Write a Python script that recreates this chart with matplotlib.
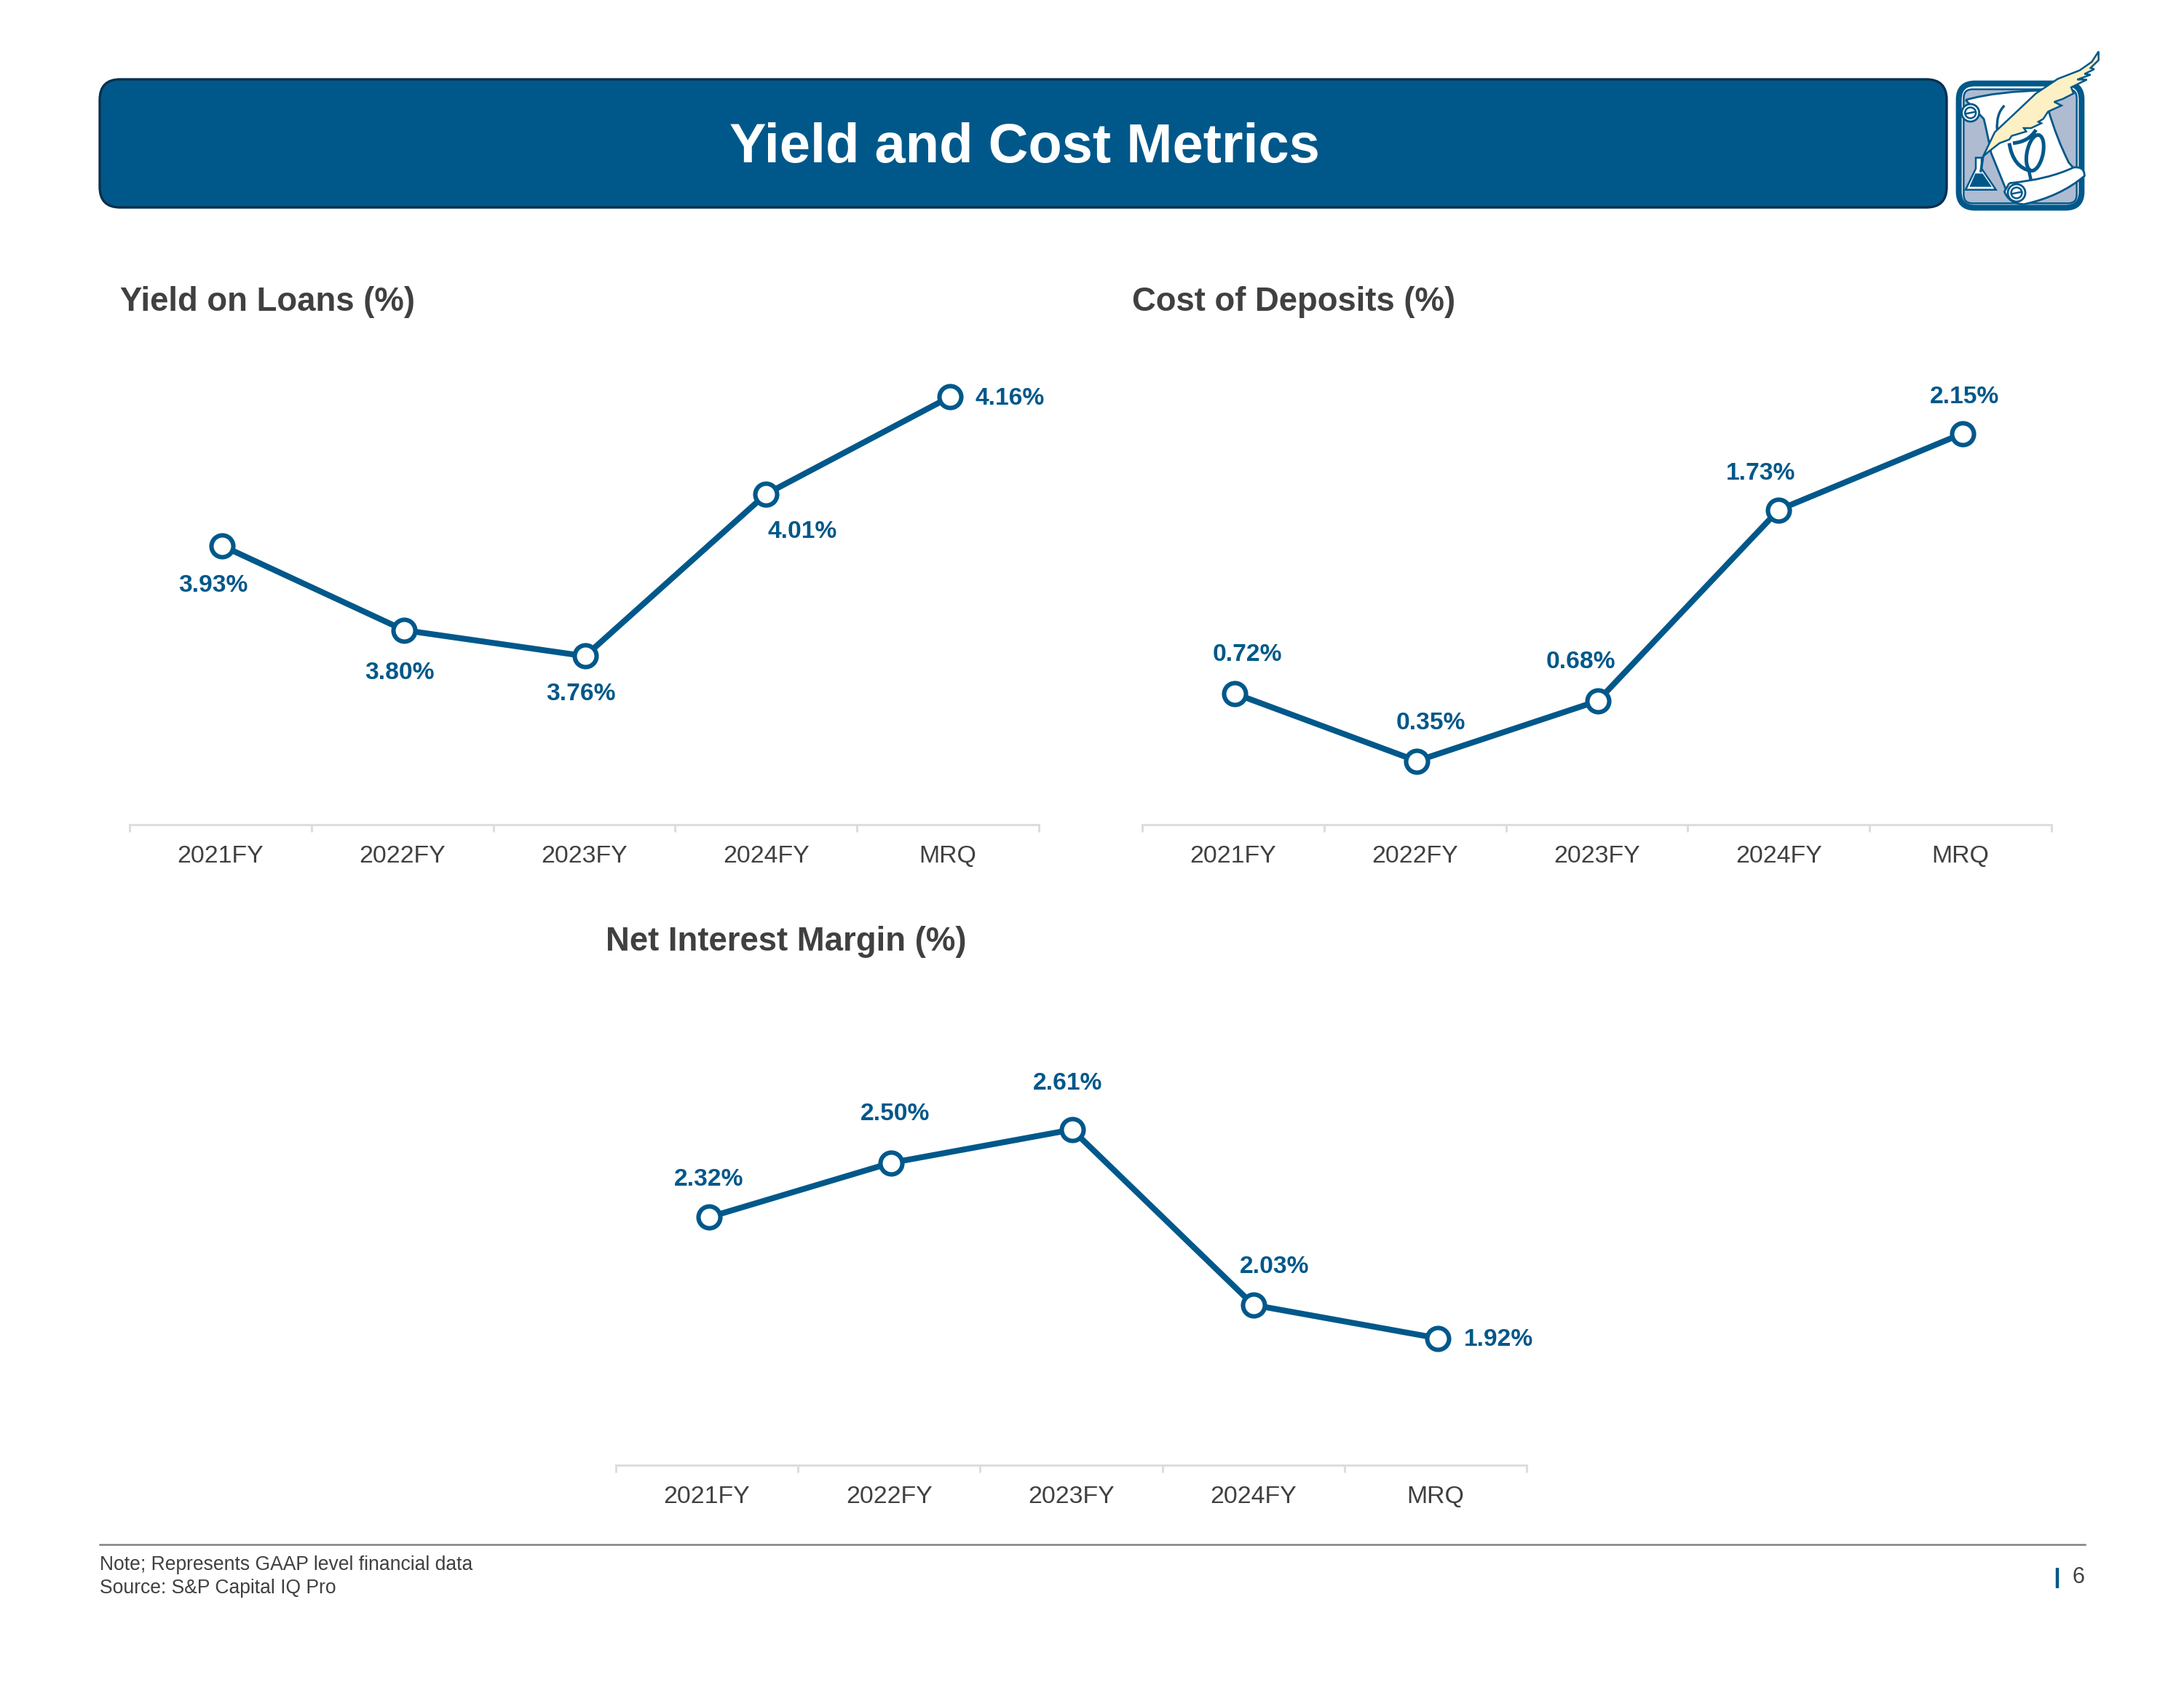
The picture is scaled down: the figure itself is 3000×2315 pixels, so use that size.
import matplotlib
matplotlib.use("Agg")
import matplotlib.pyplot as plt
from matplotlib.patches import FancyBboxPatch, Polygon, Circle, Ellipse, PathPatch
from matplotlib.path import Path

plt.rcParams['font.family'] = ['Liberation Sans', 'DejaVu Sans']

W, H = 3000, 2315
BLUE = '#00588A'
DARK = '#404040'

categories = ['2021FY', '2022FY', '2023FY', '2024FY', 'MRQ']
yield_on_loans = [3.93, 3.80, 3.76, 4.01, 4.16]
cost_of_deposits = [0.72, 0.35, 0.68, 1.73, 2.15]
net_interest_margin = [2.32, 2.50, 2.61, 2.03, 1.92]

# points sit a touch off the category centres in the original
point_x = [0.01, 0.01, 0.005, 0, 0.012]

# label offsets from the point, in pixels of the full size picture
loans_offsets = [(-13, -52), (-6, -57), (-6, -50), (50, -50), (82, 0)]
deposits_offsets = [(17, 55), (19, 54), (-23, 55), (-25, 52), (2, 52)]
margin_offsets = [(0, 54), (6, 69), (-6, 65), (29, 54), (84, 0)]

fig = plt.figure(figsize=(15, 11.575), dpi=200)

# page layer in pixel coordinates
page = fig.add_axes([0, 0, 1, 1])
page.set_xlim(0, W)
page.set_ylim(H, 0)
page.axis('off')


def px_text(x, y, s, **kw):
    page.text(x, y, s, va='center', **kw)


def add_chart(left, right, baseline, height, ylim, values, offsets, title, title_x, title_y):
    ax = fig.add_axes([left / W, 1 - baseline / H, (right - left) / W, height / H])
    ax.set_xlim(-0.5, 4.5)
    ax.set_ylim(*ylim)
    ax.patch.set_alpha(0)
    for s in ['top', 'left', 'right']:
        ax.spines[s].set_visible(False)
    ax.spines['bottom'].set_color('#DDDDDD')
    ax.spines['bottom'].set_linewidth(1.1)
    ax.set_yticks([])
    ax.set_xticks([-0.5, 0.5, 1.5, 2.5, 3.5, 4.5])
    ax.set_xticklabels([])
    ax.tick_params(axis='x', which='major', length=3.6, width=1.1, color='#DDDDDD')
    ax.set_xticks(range(5), minor=True)
    ax.set_xticklabels(categories, minor=True, fontsize=12.2, color=DARK)
    ax.tick_params(axis='x', which='minor', length=0, pad=10.2)
    ax.plot(point_x_on(values), values, color=BLUE, lw=2.9, marker='o', ms=10.8, mew=2.2,
            mfc='white', mec=BLUE, clip_on=False, zorder=3)
    for i, v in enumerate(values):
        dx, dy = offsets[i]
        ax.annotate(f'{v:.2f}%', (i + point_x[i], v), xytext=(dx * 0.36, (dy - 2) * 0.36),
                    textcoords='offset points', ha='center', va='center',
                    fontsize=12.1, fontweight='bold', color=BLUE)
    px_text(title_x, title_y, title, fontsize=16.4, fontweight='bold', color=DARK, ha='left')


def point_x_on(values):
    return [i + point_x[i] for i in range(len(values))]


def draw_logo():
    def z(x, y):
        return (2600 + x / 3, 50 + y / 3)

    def shape(points, **kw):
        page.add_patch(Polygon([z(*p) for p in points], closed=True, **kw))

    def curve(points, codes, **kw):
        page.add_patch(PathPatch(Path([z(*p) for p in points], codes), **kw))

    x0, y0 = z(272, 194)
    x1, y1 = z(778, 706)
    page.add_patch(FancyBboxPatch((x0, y0), x1 - x0, y1 - y0,
                                  boxstyle='round,pad=0,rounding_size=22', fc='white', ec=BLUE,
                                  lw=2.9, zorder=4))
    x0, y0 = z(292, 218)
    x1, y1 = z(758, 688)
    page.add_patch(FancyBboxPatch((x0, y0), x1 - x0, y1 - y0,
                                  boxstyle='round,pad=0,rounding_size=12', fc='#AEBBD1', ec=BLUE,
                                  lw=0.9, zorder=4))
    # scroll sheet
    M, L, C = Path.MOVETO, Path.LINETO, Path.CURVE3
    curve([(300, 262), (430, 225), (640, 222), (640, 300), (675, 420), (725, 520), (760, 560),
           (500, 660), (470, 640), (405, 480), (390, 400), (375, 340), (300, 262)],
          [M, C, C, L, C, C, L, L, L, L, C, C, L], fc='white', ec=BLUE, lw=1.0, zorder=5)
    # phi sign on the scroll
    curve([(460, 285), (425, 320), (430, 385)], [M, C, C], fc='none', ec=BLUE, lw=1.2, zorder=6)
    curve([(480, 440), (495, 540), (570, 555)], [M, C, C], fc='none', ec=BLUE, lw=1.8, zorder=6)
    curve([(495, 440), (560, 435), (590, 385)], [M, C, C], fc='none', ec=BLUE, lw=1.8, zorder=6)
    e_x, e_y = z(586, 480)
    page.add_patch(Ellipse((e_x, e_y), 22, 50, angle=12, fc='none', ec=BLUE, lw=1.8, zorder=6))
    curve([(560, 550), (572, 605)], [M, L], fc='none', ec=BLUE, lw=1.6, zorder=6)
    # bottom roll
    curve([(480, 605), (640, 590), (745, 540), (790, 535), (790, 575), (690, 660), (540, 692),
           (480, 690), (460, 640), (480, 605)],
          [M, C, C, C, C, C, C, C, C, L], fc='white', ec=BLUE, lw=1.0, zorder=7)
    # scroll curls
    for cx, cy, r in [(320, 315, 36), (510, 645, 36)]:
        c_x, c_y = z(cx, cy)
        page.add_patch(Circle((c_x, c_y), r / 3, fc='white', ec=BLUE, lw=1.0, zorder=8))
        page.add_patch(Circle((c_x, c_y), r / 3 * 0.62, fc='white', ec=BLUE, lw=0.9, zorder=8))
        x_a, y_a = z(cx - 20, cy + 4)
        x_b, y_b = z(cx + 20, cy - 4)
        page.plot([x_a, x_b], [y_a, y_b], color=BLUE, lw=0.9, zorder=8)
    # flask
    shape([(342, 500), (366, 500), (366, 545), (425, 632), (300, 632), (342, 545)],
          fc='white', ec=BLUE, lw=0.9, zorder=8)
    shape([(340, 565), (370, 565), (408, 620), (316, 620)], fc=BLUE, ec='none', zorder=9)
    # feather
    shape([(848, 62), (848, 98), (815, 130), (830, 135), (790, 155), (815, 158), (760, 178),
           (800, 178), (735, 210), (745, 235), (700, 258), (665, 270), (695, 285), (640, 310),
           (620, 340), (600, 352), (612, 358), (570, 378), (540, 378), (550, 392), (490, 410),
           (480, 425), (440, 440), (395, 475), (372, 495), (420, 395), (500, 320), (590, 235),
           (680, 175), (770, 140), (820, 105)],
          fc='#FDF0C4', ec=BLUE, lw=0.9, zorder=10)
    curve([(372, 495), (362, 560)], [M, L], fc='none', ec=BLUE, lw=1.2, zorder=10)


# header
page.add_patch(FancyBboxPatch((137, 109), 2537, 176, boxstyle='round,pad=0,rounding_size=28',
                              fc=BLUE, ec='#0B2F4F', lw=1.2))
px_text(1407, 203, 'Yield and Cost Metrics', fontsize=27.3, fontweight='bold', color='white', ha='center')
draw_logo()

add_chart(178, 1427, 1133, 668, (3.5, 4.25), yield_on_loans, loans_offsets,
          'Yield on Loans (%)', 165, 415)
add_chart(1569, 2818, 1133, 625, (0, 2.5), cost_of_deposits, deposits_offsets,
          'Cost of Deposits (%)', 1555, 415)
add_chart(846, 2097, 2013, 623, (1.5, 3.0), net_interest_margin, margin_offsets,
          'Net Interest Margin (%)', 832, 1294)

# footer
page.plot([137, 2864], [2122, 2122], color='#808080', lw=0.9)
px_text(137, 2150, 'Note; Represents GAAP level financial data', fontsize=9.55, color=DARK, ha='left')
px_text(137, 2182, 'Source: S&P Capital IQ Pro', fontsize=9.55, color=DARK, ha='left')
page.plot([2826, 2826], [2154, 2182], color=BLUE, lw=1.6, solid_capstyle='butt')
px_text(2864, 2167, '6', fontsize=11, color=DARK, ha='right')

page.set_xlim(0, W)
page.set_ylim(H, 0)
fig.savefig('out.png', dpi=200, facecolor='white')
